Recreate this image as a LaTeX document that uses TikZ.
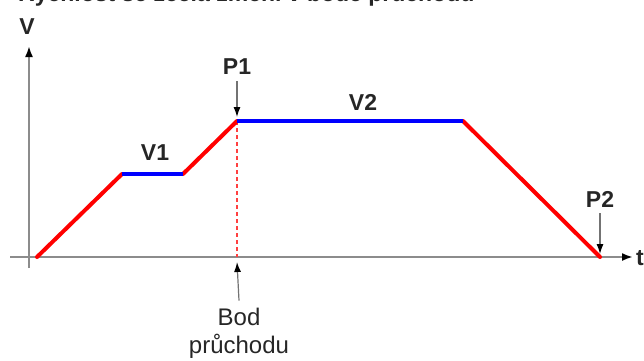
\documentclass[tikz,border=0pt]{standalone}
\usepackage{fontspec}
\setmainfont{Liberation Sans}
\usepackage{xcolor}
\usetikzlibrary{arrows.meta,positioning}
\definecolor{axisgray}{HTML}{8C8C8C}
\definecolor{txt}{HTML}{262626}
\definecolor{ramp}{HTML}{FF0000}
\definecolor{cruise}{HTML}{0000FF}

\begin{document}
\begin{tikzpicture}[x=1pt,y=-1pt,
    axis/.style={draw=axisgray,line width=2pt,
                 -{Latex[length=11pt,width=8pt,color=black]}},
    rampseg/.style={draw=ramp,line width=4pt,line cap=round},
    cruiseseg/.style={draw=cruise,line width=4pt},
    pointer/.style={draw=black!55,line width=1.2pt,
                    -{Latex[length=10pt,width=7pt,color=black]}},
    lbl/.style={text=txt,font=\fontsize{24}{28}\selectfont,inner sep=0pt},
    boldlbl/.style={lbl,font=\fontsize{23}{28}\selectfont\bfseries}]
  \useasboundingbox (0,0) rectangle (644,360);
  \clip (0,0) rectangle (644,360);
  % title, cut off at the top edge
  \node[boldlbl,anchor=base west] (title) at (18,1)
    {Rychlost se zcela změní v bodě průchodu};
  % axes
  \coordinate (xa) at (10,257);
  \coordinate (xe) at (633,257);
  \coordinate (ya) at (29,268);
  \coordinate (ye) at (29,46);
  \draw[axis] (xa) -- (xe);
  \draw[axis] (ya) -- (ye);
  \node[boldlbl] (tlbl) at (640,258) {t};
  \node[boldlbl] (vlbl) at (27,27) {V};
  % speed profile
  \coordinate (s0) at (37,257);
  \coordinate (s1) at (122,174);
  \coordinate (s2) at (183,174);
  \coordinate (s3) at (237,121);
  \coordinate (s4) at (463,121);
  \coordinate (s5) at (600,257);
  \draw[draw=ramp!75,line width=1.5pt,dash pattern=on 4pt off 3pt]
    (s3) -- (s3 |- xa);
  \draw[rampseg] (s0) -- (s1);
  \draw[rampseg] (s2) -- (s3);
  \draw[rampseg] (s4) -- (s5);
  \draw[cruiseseg] (s1) -- (s2);
  \draw[cruiseseg] (s3) -- (s4);
  \node[boldlbl] (v1) at (155,153) {V1};
  \node[boldlbl] (v2) at (363,102) {V2};
  % points
  \node[boldlbl] (p1) at (237,67) {P1};
  \draw[pointer] ([yshift=-6pt]p1.south) -- ([yshift=4pt]s3);
  \node[boldlbl] (p2) at (600,199) {P2};
  \draw[pointer] ([yshift=-6pt]p2.south) -- ([yshift=3pt]s5);
  \node[lbl,align=center] (bod) at (239,333) {Bod\\průchodu};
  \draw[pointer] ([yshift=7pt]bod.north) -- ([yshift=-5pt]s3 |- xa);
\end{tikzpicture}
\end{document}
